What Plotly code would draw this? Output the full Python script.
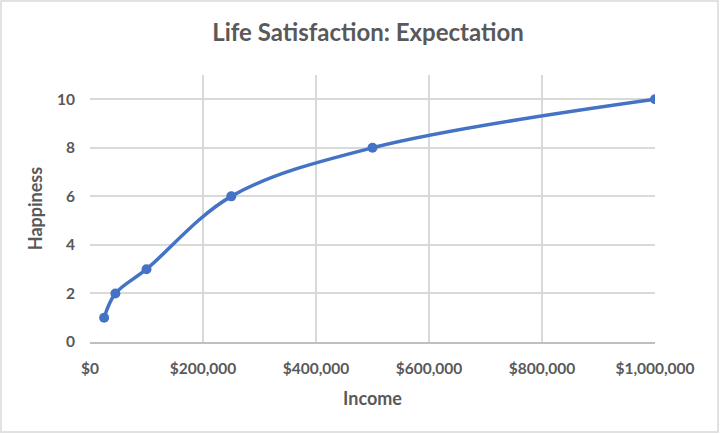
import plotly.graph_objects as go

income = [25000, 45000, 100000, 250000, 500000, 1000000]
happiness = [1, 2, 3, 6, 8, 10]
x_ticks = [0, 200000, 400000, 600000, 800000, 1000000]
x_tick_labels = ["$0", "$200,000", "$400,000", "$600,000", "$800,000", "$1,000,000"]
y_ticks = [0, 2, 4, 6, 8, 10]

BLUE = "#4472C4"
TEXT = "#595959"
GRID = "#D9D9D9"
FONT = "Lato"

fig = go.Figure()
fig.add_trace(go.Scatter(
    x=income, y=happiness, mode="lines+markers",
    line=dict(color=BLUE, width=3.5, shape="spline", smoothing=1.0),
    marker=dict(color=BLUE, size=10),
    showlegend=False, hoverinfo="skip",
))

L, R, T, B = 90, 65, 75, 92
W, H = 720, 434
pw, ph = W - L - R, H - T - B

fig.update_layout(
    width=W, height=H,
    margin=dict(l=L, r=R, t=T, b=B, autoexpand=False),
    paper_bgcolor="white", plot_bgcolor="white",
    font=dict(family=FONT, color=TEXT),
    title=dict(text="Life Satisfaction: Expectation", x=368 / W, xanchor="center",
               y=1 - 33 / H, yanchor="middle",
               font=dict(family=FONT, size=24, color=TEXT, weight="bold")),
    xaxis=dict(
        range=[0, 1000000], tickvals=x_ticks, ticktext=x_tick_labels,
        showgrid=True, gridcolor=GRID, gridwidth=1.5,
        showline=True, linecolor="#BFBFBF", linewidth=1.5,
        zeroline=False, ticks="", ticklabelstandoff=12,
        tickfont=dict(family=FONT, size=15.5, color=TEXT, weight="bold"),
        title=dict(text="Income", standoff=16,
                   font=dict(family=FONT, size=18, color=TEXT, weight="bold")),
    ),
    yaxis=dict(
        range=[0, 11], tickvals=y_ticks,
        showgrid=True, gridcolor=GRID, gridwidth=1.5,
        showline=False, zeroline=False, ticks="", ticklabelstandoff=14,
        tickfont=dict(family=FONT, size=15.5, color=TEXT, weight="bold"),
        title=dict(text="Happiness", standoff=9,
                   font=dict(family=FONT, size=18, color=TEXT, weight="bold")),
    ),
    shapes=[dict(
        type="rect", xref="paper", yref="paper",
        x0=(1 - L) / pw, x1=(W - 2 - L) / pw,
        y0=-(B - 2) / ph, y1=(ph + T - 1) / ph,
        line=dict(color="#D9D9D9", width=1.5), fillcolor="rgba(0,0,0,0)", layer="below",
    )],
)

fig.write_html("out.html", config={"displayModeBar": False},
               post_script="document.body.style.margin='0';")
